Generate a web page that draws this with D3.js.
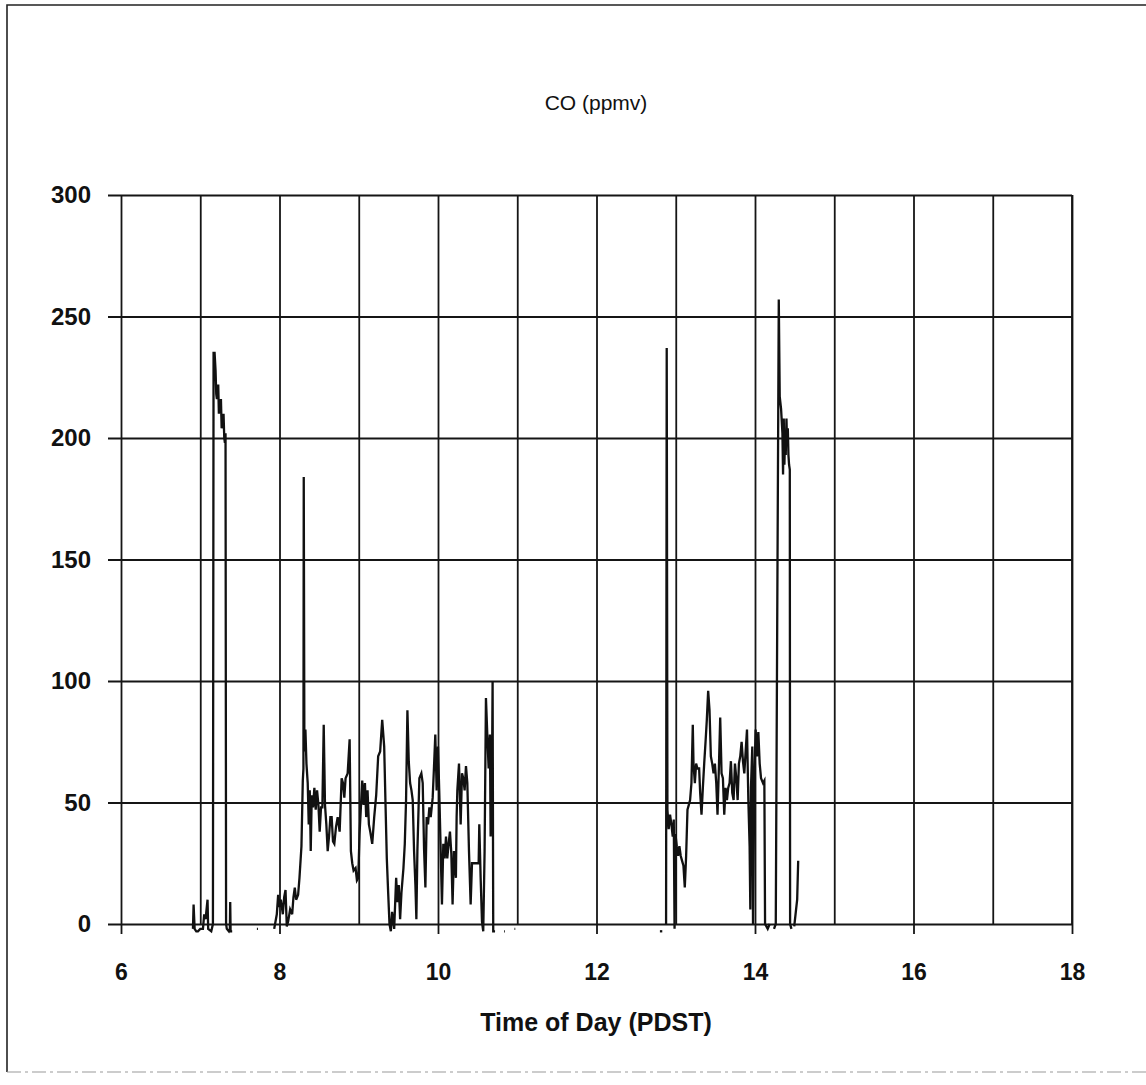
<!DOCTYPE html>
<html>
<head>
<meta charset="utf-8">
<script src="https://cdn.jsdelivr.net/npm/d3@7"></script>
<style>
	body { margin: 0; background: #fff; }
	svg { display: block; }
	text { font-family: "Liberation Sans", Arial, sans-serif; fill: #111; }
</style>
</head>
<body>
<div id="chart"></div>
<script>
{ // start block scope

	// CO readings, [hour, ppmv], one array per stretch of logged data
	const morningBurst = [
		[6.908, -2], [6.916, 8], [6.929, -2], [6.950, -3], [6.971, -3], [7.000, -2], [7.034, -2],
		[7.050, 4], [7.067, 2], [7.092, 10], [7.100, -2], [7.139, -3], [7.160, 0], [7.168, 235],
		[7.181, 235], [7.193, 228], [7.202, 218], [7.210, 216], [7.227, 222], [7.235, 210],
		[7.244, 212], [7.261, 216], [7.270, 204], [7.277, 206], [7.294, 210], [7.303, 200],
		[7.311, 198], [7.319, 202], [7.326, 0], [7.335, -2], [7.361, -3], [7.374, -2], [7.378, 9],
		[7.383, -3], [7.403, -3]
	];
	const strayA = [[7.715, -2], [7.728, -2]];
	const morningRun = [
		[7.933, -2], [7.966, 4], [7.983, 12], [8.000, 7], [8.017, 10], [8.042, 4], [8.059, 11],
		[8.076, 14], [8.092, -1], [8.109, 1], [8.134, 6], [8.160, 4], [8.176, 11], [8.193, 15],
		[8.210, 10], [8.235, 12], [8.252, 19], [8.277, 32], [8.294, 59], [8.302, 64], [8.306, 184],
		[8.314, 71], [8.327, 80], [8.340, 66], [8.356, 58], [8.369, 41], [8.382, 55], [8.394, 30],
		[8.407, 53], [8.423, 48], [8.440, 56], [8.457, 47], [8.474, 55], [8.491, 49], [8.507, 38],
		[8.524, 48], [8.541, 48], [8.558, 82], [8.574, 49], [8.591, 41], [8.608, 30], [8.625, 36],
		[8.642, 44], [8.658, 44], [8.675, 34], [8.692, 33], [8.713, 40], [8.734, 44], [8.759, 38],
		[8.784, 60], [8.801, 58], [8.818, 52], [8.834, 60], [8.860, 62], [8.885, 76], [8.901, 30],
		[8.918, 25], [8.935, 22], [8.960, 23], [8.977, 18], [8.994, 19], [9.010, 37], [9.027, 48],
		[9.044, 59], [9.061, 49], [9.078, 58], [9.094, 44], [9.111, 55], [9.128, 41], [9.145, 38],
		[9.170, 33], [9.195, 44], [9.220, 53], [9.245, 69], [9.270, 71], [9.296, 84], [9.321, 73],
		[9.338, 49], [9.354, 27], [9.371, 13], [9.388, 0], [9.405, -3], [9.421, 5], [9.447, -2],
		[9.472, 19], [9.488, 9], [9.505, 16], [9.522, 2], [9.539, 13], [9.564, 23], [9.581, 33],
		[9.597, 51], [9.614, 88], [9.631, 67], [9.648, 58], [9.665, 55], [9.681, 51], [9.698, 30],
		[9.715, 16], [9.727, 2], [9.740, 30], [9.765, 60], [9.790, 62], [9.807, 58], [9.824, 31],
		[9.841, 15], [9.857, 44], [9.874, 41], [9.891, 48], [9.908, 44], [9.933, 52], [9.950, 65],
		[9.966, 78], [9.983, 55], [10.000, 73], [10.017, 53], [10.034, 30], [10.050, 8], [10.067, 33],
		[10.084, 27], [10.101, 36], [10.117, 27], [10.134, 33], [10.151, 38], [10.168, 29],
		[10.184, 8], [10.201, 30], [10.226, 19], [10.235, 44], [10.244, 55], [10.265, 66],
		[10.286, 41], [10.303, 62], [10.319, 60], [10.336, 55], [10.353, 65], [10.370, 58],
		[10.391, 30], [10.412, 8], [10.429, 25], [10.454, 25], [10.496, 25], [10.513, 25],
		[10.521, 41], [10.538, 19], [10.555, 1], [10.571, -3], [10.588, 30], [10.605, 93],
		[10.622, 78], [10.639, 64], [10.655, 78], [10.664, 36], [10.681, 60], [10.689, 100],
		[10.697, -3], [10.720, -3]
	];
	const strayB = [[10.835, -3], [10.845, -3]];
	const strayC = [[10.965, -2], [10.975, -2]];
	const strayD = [[12.800, -3], [12.830, -3]];
	const afternoonRun = [
		[12.878, 0], [12.886, 237], [12.895, 47], [12.911, 39], [12.928, 45], [12.945, 41],
		[12.962, 36], [12.975, 43], [12.985, -2], [12.996, 37], [13.013, 32], [13.030, 28],
		[13.046, 32], [13.063, 28], [13.080, 26], [13.097, 24], [13.114, 15], [13.131, 28],
		[13.148, 47], [13.165, 49], [13.181, 51], [13.198, 58], [13.215, 82], [13.224, 66],
		[13.241, 58], [13.257, 66], [13.274, 64], [13.295, 64], [13.308, 54], [13.325, 45],
		[13.342, 56], [13.359, 66], [13.376, 75], [13.392, 84], [13.409, 96], [13.426, 88],
		[13.443, 69], [13.460, 66], [13.477, 62], [13.494, 66], [13.511, 58], [13.527, 45],
		[13.544, 64], [13.561, 85], [13.578, 62], [13.595, 60], [13.612, 45], [13.629, 56],
		[13.646, 51], [13.662, 56], [13.679, 58], [13.696, 67], [13.713, 54], [13.730, 51],
		[13.747, 66], [13.764, 60], [13.781, 51], [13.797, 66], [13.814, 69], [13.831, 75],
		[13.848, 67], [13.865, 62], [13.882, 71], [13.899, 80], [13.916, 51], [13.932, 32],
		[13.941, 6], [13.949, 56], [13.966, 73], [13.975, 0], [13.992, 60], [14.008, 80],
		[14.025, 69], [14.042, 79], [14.059, 66], [14.076, 60], [14.101, 58], [14.118, 59],
		[14.127, 0], [14.160, -2], [14.185, 0]
	];
	const afternoonBurst = [
		[14.240, -2], [14.262, 0], [14.300, 257], [14.312, 217], [14.329, 212], [14.346, 202],
		[14.354, 185], [14.363, 208], [14.371, 189], [14.380, 202], [14.388, 193], [14.397, 208],
		[14.405, 197], [14.414, 204], [14.422, 193], [14.430, 189], [14.439, 187], [14.443, 0],
		[14.460, -2]
	];
	const lateBlip = [[14.495, -1], [14.515, 5], [14.532, 10], [14.545, 26]];

	const segments = [morningBurst, strayA, morningRun, strayB, strayC, strayD,
		afternoonRun, afternoonBurst, lateBlip];

	const xTicks = [6, 8, 10, 12, 14, 16, 18];
	const xGrid = d3.range(6, 19);
	const yTicks = [0, 50, 100, 150, 200, 250, 300];

	const chartTitle = "CO (ppmv)";
	const xTitle = "Time of Day (PDST)";

	var width = 1146,
		height = 1085;
	var margin = { left: 121, right: 1072, top: 195, bottom: 924 };

	var svg = d3
		.select("#chart")
		.append("svg")
		.attr("width", width)
		.attr("height", height);

	svg.append("rect").attr("width", width).attr("height", height).attr("fill", "#fff");

	// page frame of the scanned sheet
	svg.append("path")
		.attr("d", `M7,1072 V5 H${width}`)
		.attr("fill", "none")
		.attr("stroke", "#222")
		.attr("stroke-width", 1.6);
	svg.append("line")
		.attr("x1", 7).attr("x2", width)
		.attr("y1", 1072).attr("y2", 1072)
		.attr("stroke", "#999")
		.attr("stroke-width", 1)
		.attr("stroke-dasharray", "14 4 3 4");

	var x = d3.scaleLinear().domain([6, 18]).range([margin.left, margin.right]);
	var y = d3.scaleLinear().domain([0, 300]).range([margin.bottom, margin.top]);

	// grid
	svg.append("g")
		.attr("class", "grid-x")
		.attr("transform", `translate(0,${margin.bottom})`)
		.call(d3.axisBottom(x).tickValues(xGrid).tickSize(-(margin.bottom - margin.top)).tickFormat(""))
		.call((g) => g.select(".domain").remove());
	svg.append("g")
		.attr("class", "grid-y")
		.attr("transform", `translate(${margin.right},0)`)
		.call(d3.axisLeft(y).tickValues(yTicks).tickSize(margin.right - margin.left + 13).tickFormat(""))
		.call((g) => g.select(".domain").attr("d", `M0,${margin.top}V${margin.bottom}`));
	svg.selectAll(".grid-x line, .grid-y line, .grid-y .domain")
		.attr("stroke", "#151515")
		.attr("stroke-width", 1.8);

	// x axis: ticks and labels
	var xAxis = svg.append("g")
		.attr("transform", `translate(0,${margin.bottom})`)
		.call(d3.axisBottom(x).tickValues(xTicks).tickSize(10).tickPadding(30).tickFormat(d3.format("d")));
	xAxis.select(".domain").remove();
	xAxis.selectAll("line").attr("stroke", "#151515").attr("stroke-width", 1.8);
	xAxis.selectAll("text")
		.style("font-size", "23px")
		.style("font-weight", "bold")
		.attr("fill", "#111");

	// y labels
	var yAxis = svg.append("g")
		.attr("transform", `translate(${margin.left},0)`)
		.call(d3.axisLeft(y).tickValues(yTicks).tickSize(0).tickPadding(30));
	yAxis.select(".domain").remove();
	yAxis.selectAll("text")
		.style("font-size", "24px")
		.style("font-weight", "bold")
		.attr("fill", "#111");

	// titles
	svg.append("text")
		.attr("x", 596)
		.attr("y", 110)
		.attr("text-anchor", "middle")
		.style("font-size", "21px")
		.text(chartTitle);
	svg.append("text")
		.attr("x", 596)
		.attr("y", 1031)
		.attr("text-anchor", "middle")
		.style("font-size", "25px")
		.style("font-weight", "bold")
		.text(xTitle);

	// CO trace
	var line = d3.line()
		.x((d) => x(d[0]))
		.y((d) => y(d[1]));

	svg.append("g")
		.selectAll("path")
		.data(segments)
		.join("path")
		.attr("d", line)
		.attr("fill", "none")
		.attr("stroke", "#111")
		.attr("stroke-width", 2.3)
		.attr("stroke-linejoin", "miter");

} // end block scope
</script>
</body>
</html>
